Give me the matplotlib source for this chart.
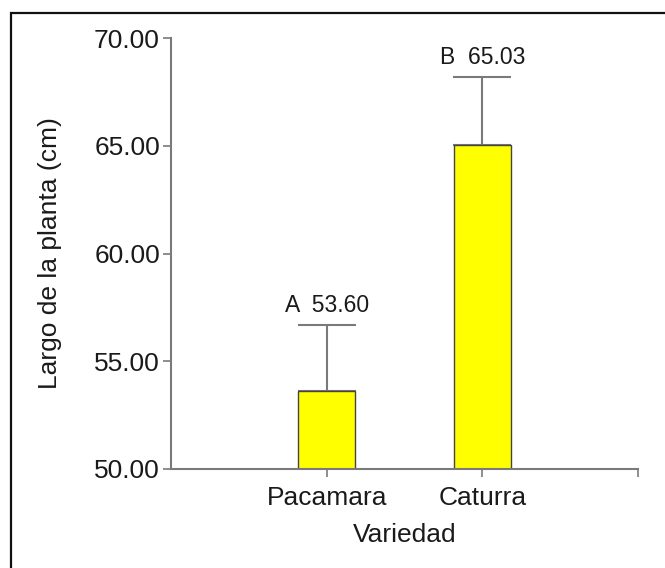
import matplotlib
matplotlib.use("Agg")
import matplotlib.pyplot as plt
from matplotlib.patches import Rectangle

categories = ["Pacamara", "Caturra"]
means = [53.60, 65.03]
errors = [3.08, 3.16]
letters = ["A", "B"]
yticks = [50.00, 55.00, 60.00, 65.00, 70.00]

plt.rcParams['font.family'] = ['Liberation Sans', 'DejaVu Sans']

fig = plt.figure(figsize=(6.65, 5.68), dpi=100)
# outer frame
fig.patches.append(Rectangle((11/665, -0.1), 1.2, 1 - 13/568 + 0.1,
                             transform=fig.transFigure, fill=False,
                             edgecolor='#111111', linewidth=1.6))

ax = fig.add_axes([171/665, 1 - 469/568, (638 - 171)/665, (469 - 38)/568])
x = list(range(len(categories)))
axis_col = '#7a7a7a'
txt_col = '#1a1a1a'
ax.bar(x, [m - 50 for m in means], bottom=50, width=0.37, color='#ffff00',
       edgecolor='#444444', linewidth=1.0, zorder=2)
ax.errorbar(x, means, yerr=[[0, 0], errors], fmt='none', ecolor=axis_col,
            elinewidth=1.5, capsize=21, capthick=1.5, zorder=1)
for xi, m, e, l in zip(x, means, errors, letters):
    ax.text(xi, m + e + 0.6, f"{l}  {m:.2f}", ha='center', va='baseline',
            fontsize=16.5, color=txt_col)

ax.set_xlim(-1, 2)
ax.set_ylim(50, 70)
ax.set_yticks(yticks)
ax.set_yticklabels([f"{v:.2f}" for v in yticks])
ax.set_xticks([0, 1, 2])
ax.set_xticklabels(categories + [""])
for s in ['top', 'right']:
    ax.spines[s].set_visible(False)
for s in ['left', 'bottom']:
    ax.spines[s].set_color(axis_col)
    ax.spines[s].set_linewidth(1.5)
ax.tick_params(axis='both', colors=axis_col, length=6, width=1.2,
               labelsize=19, labelcolor=txt_col)
ax.tick_params(axis='y', pad=2)
ax.tick_params(axis='x', pad=6)
ax.set_xlabel("Variedad", fontsize=19, color=txt_col, va='top')
ax.xaxis.set_label_coords(0.5, (469 - 523)/431)
ax.set_ylabel("Largo de la planta (cm)", fontsize=19, color=txt_col, va='center')
ax.yaxis.set_label_coords((50 - 171)/467, 0.5)

fig.savefig("out.png", dpi=100)
